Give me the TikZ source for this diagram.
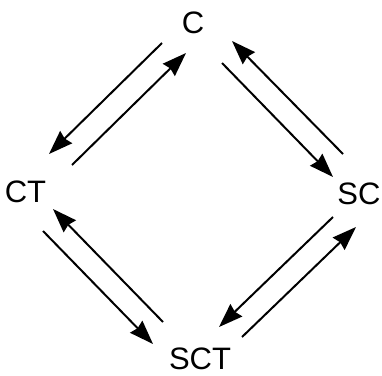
\documentclass[tikz,border=0pt]{standalone}
\usepackage{fontspec}
\setmainfont{Liberation Sans}
\usetikzlibrary{arrows.meta}
\begin{document}
\begin{tikzpicture}[x=1pt,y=-1pt,
  state/.style={inner sep=0pt,font=\fontsize{31}{31}\selectfont},
  flow/.style={line width=2pt,-{Stealth[length=24pt,width=17pt,inset=2pt]}}]
\useasboundingbox (0,0) rectangle (382,375);
% states
\node[state] (C)   at (193,22.5)  {C};
\node[state] (CT)  at (25.5,191.5){CT};
\node[state] (SC)  at (359,193.5) {SC};
\node[state] (SCT) at (200,358.5) {SCT};
% arrow end points, each pair offset parallel to its edge
\coordinate (cct1) at (162,43);  \coordinate (cct2) at (49,154);
\coordinate (ctc1) at (72,165);  \coordinate (ctc2) at (186,53);
\coordinate (scc1) at (343,154); \coordinate (scc2) at (232,41);
\coordinate (csc1) at (222,63);  \coordinate (csc2) at (333,177);
\coordinate (sctct1) at (163,322); \coordinate (sctct2) at (53,209);
\coordinate (ctsct1) at (43,231);  \coordinate (ctsct2) at (153,344);
\coordinate (scsct1) at (333,217); \coordinate (scsct2) at (219,327);
\coordinate (sctsc1) at (242,337); \coordinate (sctsc2) at (356,227);
% transitions
\draw[flow] (cct1) -- (cct2);
\draw[flow] (ctc1) -- (ctc2);
\draw[flow] (scc1) -- (scc2);
\draw[flow] (csc1) -- (csc2);
\draw[flow] (sctct1) -- (sctct2);
\draw[flow] (ctsct1) -- (ctsct2);
\draw[flow] (scsct1) -- (scsct2);
\draw[flow] (sctsc1) -- (sctsc2);
\end{tikzpicture}
\end{document}
